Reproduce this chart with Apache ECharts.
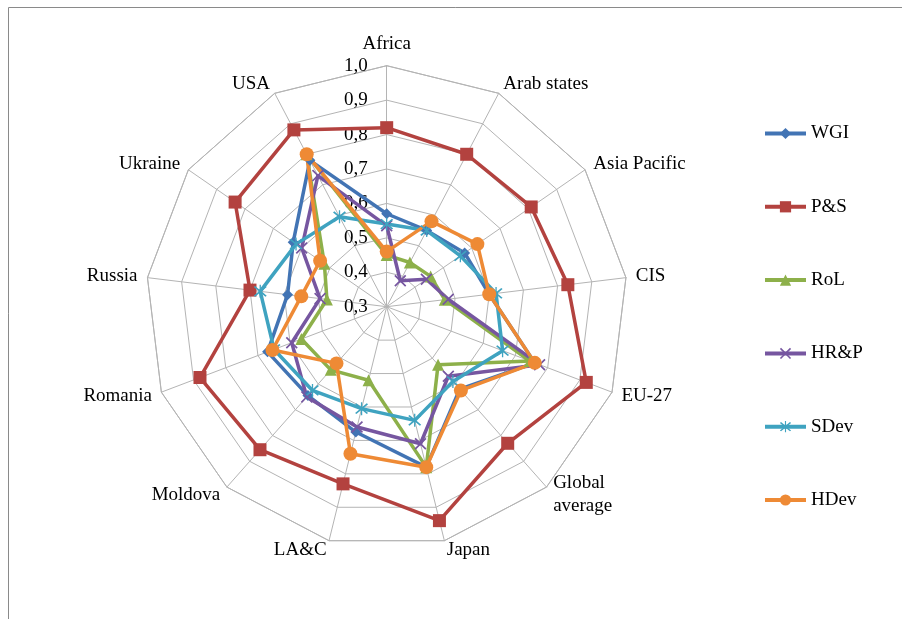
<!DOCTYPE html>
<html>
<head>
<meta charset="utf-8">
<script src="https://cdn.jsdelivr.net/npm/echarts@6/dist/echarts.min.js"></script>
<style>
  html, body { margin: 0; padding: 0; background: #fff; }
  #chart { width: 902px; height: 619px; }
</style>
</head>
<body>
<div id="chart"></div>
<script>
// Regions, listed clockwise from the top of the web
const categories = ['Africa', 'Arab states', 'Asia Pacific', 'CIS', 'EU-27', 'Global average',
  'Japan', 'LA&C', 'Moldova', 'Romania', 'Russia', 'Ukraine', 'USA'];

const wgi  = [0.57, 0.55, 0.575, 0.60, 0.76, 0.62, 0.78, 0.675, 0.645, 0.67, 0.59, 0.63, 0.78];
const ps   = [0.82, 0.80, 0.81, 0.83, 0.92, 0.83, 0.94, 0.83, 0.855, 0.88, 0.70, 0.835, 0.88];
const rol  = [0.45, 0.445, 0.455, 0.47, 0.745, 0.525, 0.78, 0.52, 0.545, 0.565, 0.475, 0.52, 0.80];
const hrp  = [0.535, 0.385, 0.44, 0.48, 0.775, 0.57, 0.71, 0.66, 0.65, 0.595, 0.495, 0.60, 0.73];
const sdev = [0.54, 0.55, 0.56, 0.62, 0.66, 0.59, 0.64, 0.605, 0.625, 0.65, 0.67, 0.62, 0.595];
const hdev = [0.46, 0.58, 0.62, 0.60, 0.76, 0.625, 0.78, 0.74, 0.52, 0.655, 0.55, 0.535, 0.80];

const axisMin = 0.3;
const axisMax = 1.0;
const axisStep = 0.1;

// Marker shapes
const crossPath = 'path://M1,0L5,4L9,0L10,1L6,5L10,9L9,10L5,6L1,10L0,9L4,5L0,1Z';
const starPath = 'path://M1,0L5,4L9,0L10,1L6,5L10,9L9,10L5,6L1,10L0,9L4,5L0,1Z' +
  'M4.5,-1L5.5,-1L5.5,11L4.5,11Z';

const seriesDefs = [
  { name: 'WGI',  values: wgi,  color: '#4274B4', symbol: 'diamond',  size: 11 },
  { name: 'P&S',  values: ps,   color: '#B3423F', symbol: 'rect',     size: 13 },
  { name: 'RoL',  values: rol,  color: '#8DB04A', symbol: 'triangle', size: 12 },
  { name: 'HR&P', values: hrp,  color: '#7656A0', symbol: crossPath,  size: 12 },
  { name: 'SDev', values: sdev, color: '#3FA3C0', symbol: starPath,   size: 13 },
  { name: 'HDev', values: hdev, color: '#EE8A35', symbol: 'circle',   size: 14 }
];

// ECharts lays radar indicators out counter-clockwise, so feed them in reverse
// (keeping the first one at the top) to get a clockwise web.
const order = [0].concat(categories.map((_, i) => i).slice(1).reverse());

const serif = 'Liberation Serif';
const fontSize = 19;

const option = {
  animation: false,
  backgroundColor: '#fff',
  graphic: [{
    type: 'rect',
    z: -10,
    shape: { x: 8.5, y: 7.5, width: 1000, height: 1000 },
    style: { fill: 'none', stroke: '#8a8a8a', lineWidth: 1 }
  }],
  grid: { left: 0, top: 0, width: 1, height: 1, show: false },
  xAxis: { type: 'value', show: false },
  yAxis: { type: 'value', show: false },
  legend: {
    orient: 'vertical',
    left: 758,
    top: 119,
    itemWidth: 41,
    itemHeight: 14,
    itemGap: 54.3,
    lineStyle: { width: 4 },
    textStyle: { fontFamily: serif, fontSize: fontSize, color: '#000' },
    data: seriesDefs.map(d => d.name)
  },
  radar: {
    center: [386.7, 306.7],
    radius: 241,
    startAngle: 90,
    splitNumber: Math.round((axisMax - axisMin) / axisStep),
    shape: 'polygon',
    nameGap: 10,
    axisName: {
      color: '#000',
      fontFamily: serif,
      fontSize: fontSize,
      lineHeight: 23,
      formatter: n => n === 'Global average' ? 'Global\naverage' : n
    },
    indicator: order.map(i => ({
      name: categories[i],
      min: axisMin,
      max: axisMax,
      axisLabel: i === 0 ? {
        show: true,
        margin: 19,
        color: '#000',
        fontFamily: serif,
        fontSize: fontSize,
        formatter: v => Number(v).toFixed(1).replace('.', ',')
      } : { show: false }
    })),
    axisLabel: { show: false },
    axisTick: { show: false },
    axisLine: { lineStyle: { color: '#b4b4b4', width: 1 } },
    splitLine: { lineStyle: { color: '#b4b4b4', width: 1 } },
    splitArea: { show: false }
  },
  series: [
    // Legend stand-ins carrying the line + marker icon
    ...seriesDefs.map(d => ({
      type: 'line',
      name: d.name,
      data: [],
      symbol: d.symbol,
      symbolSize: d.size,
      itemStyle: { color: d.color },
      lineStyle: { color: d.color, width: 4 }
    })),
    ...seriesDefs.map(d => ({
      type: 'radar',
      name: d.name,
      symbol: d.symbol,
      symbolSize: d.size,
      itemStyle: { color: d.color },
      lineStyle: { color: d.color, width: 3.5 },
      data: [{ name: d.name, value: order.map(i => d.values[i]) }]
    }))
  ]
};

const chart = echarts.init(document.getElementById('chart'), null, { renderer: 'canvas' });
chart.setOption(option);
</script>
</body>
</html>
